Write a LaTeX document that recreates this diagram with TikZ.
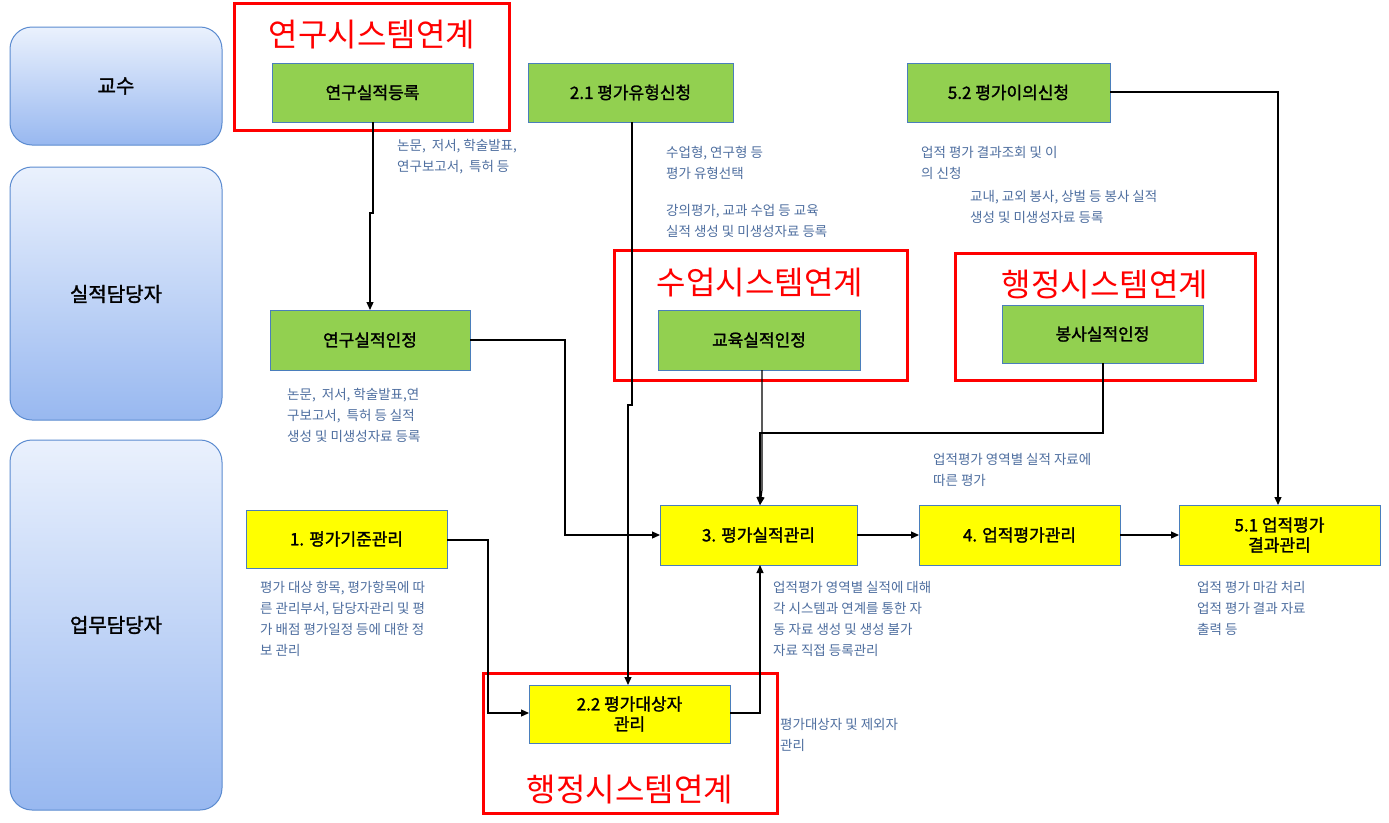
\documentclass[tikz,border=0pt]{standalone}
\usepackage{fontspec}
\setmainfont{Noto Sans CJK KR}
\newfontfamily\krb[FakeBold=1.5]{Noto Sans CJK KR}
\usetikzlibrary{arrows.meta}
\definecolor{gfill}{HTML}{92D050}
\definecolor{gline}{HTML}{4A7EBB}
\definecolor{yfill}{HTML}{FFFF00}
\definecolor{ntext}{HTML}{4F6FA0}
\definecolor{lanetop}{HTML}{EAF1FD}
\definecolor{lanebot}{HTML}{98B8F0}
\definecolor{laneline}{HTML}{5B8BD0}
\begin{document}
\begin{tikzpicture}[x=1pt,y=-1pt,
 lane/.style={draw=laneline,line width=1pt,rounded corners=22pt,top color=lanetop,bottom color=lanebot},
 gbox/.style={draw=gline,line width=1pt,fill=gfill},
 ybox/.style={draw=gline,line width=1pt,fill=yfill},
 rbox/.style={draw=red,line width=3pt},
 rtxt/.style={text=red,font=\fontsize{32}{34}\selectfont},
 btxt/.style={font=\krb\fontsize{17}{20}\selectfont,align=center},
 ltxt/.style={font=\krb\fontsize{20}{24}\selectfont},
 note/.style={text=ntext,font=\fontsize{13.5}{21}\selectfont,align=left,anchor=north west,inner sep=0pt},
 arr/.style={-{Triangle[length=8pt,width=7pt]},line width=1.2pt}]
\useasboundingbox (0,0) rectangle (1389,822);
\fill[white] (0,0) rectangle (1389,822);
% lanes
\draw[lane] (10,27) rectangle (222,145); \node[ltxt] (l1) at (116,86) {교수};
\draw[lane] (10,167) rectangle (222,420); \node[ltxt] (l2) at (116,294) {실적담당자};
\draw[lane] (10,440) rectangle (222,810); \node[ltxt] (l3) at (116,625) {업무담당자};
% red boxes
\draw[rbox] (234,3) rectangle (509,130); \node[rtxt] (r1) at (372,35) {연구시스템연계};
\draw[rbox] (614,250) rectangle (907,380); \node[rtxt] (r2) at (760,283) {수업시스템연계};
\draw[rbox] (955,253) rectangle (1255,380); \node[rtxt] (r3) at (1105,285) {행정시스템연계};
\draw[rbox] (483,673) rectangle (777,813); \node[rtxt] (r4) at (630,790) {행정시스템연계};
% green nodes
\draw[gbox] (272,63) rectangle (473,122); \node[btxt] (a) at (372.5,92.5) {연구실적등록};
\draw[gbox] (528,63) rectangle (733,122); \node[btxt] (b) at (630.5,92.5) {2.1 평가유형신청};
\draw[gbox] (907,63) rectangle (1110,122); \node[btxt] (c) at (1008.5,92.5) {5.2 평가이의신청};
\draw[gbox] (270,310) rectangle (470,370); \node[btxt] (d) at (370,340) {연구실적인정};
\draw[gbox] (658,310) rectangle (860,370); \node[btxt] (e) at (759,340) {교육실적인정};
\draw[gbox] (1002,305) rectangle (1203,363); \node[btxt] (f) at (1102.5,334) {봉사실적인정};
% yellow nodes
\draw[ybox] (246,510) rectangle (447,568); \node[btxt] (g) at (346.5,539) {1. 평가기준관리};
\draw[ybox] (660,505) rectangle (857,565); \node[btxt] (h) at (758.5,535) {3. 평가실적관리};
\draw[ybox] (919,505) rectangle (1120,565); \node[btxt] (i) at (1019.5,535) {4. 업적평가관리};
\draw[ybox] (1179,505) rectangle (1380,565); \node[btxt] (j) at (1279.5,535) {5.1 업적평가\\결과관리};
\draw[ybox] (529,685) rectangle (730,743); \node[btxt] (k) at (629.5,714) {2.2 평가대상자\\관리};
% coordinates
\coordinate (aB) at (373,122); \coordinate (dT) at (370,310);
\coordinate (bB) at (632,122); \coordinate (kT) at (628,685);
\coordinate (cR) at (1110,92); \coordinate (jT) at (1278,505);
\coordinate (dR) at (470,340); \coordinate (hL) at (660,535);
\coordinate (eB) at (762,370); \coordinate (fB) at (1103,363); \coordinate (hT) at (760,505);
\coordinate (gR) at (447,540); \coordinate (kL) at (529,713);
\coordinate (kR) at (730,713); \coordinate (hB) at (760,565);
\coordinate (hR) at (857,535); \coordinate (iL) at (919,535);
\coordinate (iR) at (1120,535); \coordinate (jL) at (1179,535);
% edges
\draw[arr] (aB) -- (373,213) -- (370,213) -- (dT);
\draw[arr] (bB) -- (632,405) -- (628,405) -- (kT);
\draw[arr] (cR) -- (1278,92) -- (jT);
\draw[arr] (dR) -- (565,340) -- (565,535) -- (hL);
\draw[arr] (eB) -- (762,490) -- (hT);
\draw[arr] (fB) -- (1103,433) -- (760,433) -- (hT);
\draw[arr] (gR) -- (488,540) -- (488,713) -- (kL);
\draw[arr] (kR) -- (760,713) -- (hB);
\draw[arr] (hR) -- (iL);
\draw[arr] (iR) -- (jL);
% notes
\node[note] (n1) at (397,139) {논문,\ \ 저서, 학술발표,\\연구보고서,\ \ 특허 등};
\node[note] (n2) at (666,146) {수업형, 연구형 등\\평가 유형선택};
\node[note] (n3) at (666,204) {강의평가, 교과 수업 등 교육\\실적 생성 및 미생성자료 등록};
\node[note] (n4) at (921,146) {업적 평가 결과조회 및 이\\의 신청};
\node[note] (n5) at (970,190) {교내, 교외 봉사, 상벌 등 봉사 실적\\생성 및 미생성자료 등록};
\node[note] (n6) at (287,388) {논문,\ \ 저서, 학술발표,연\\구보고서,\ \ 특허 등 실적\\생성 및 미생성자료 등록};
\node[note] (n7) at (933,453) {업적평가 영역별 실적 자료에\\따른 평가};
\node[note] (n8) at (260,581) {평가 대상 항목, 평가항목에 따\\른 관리부서, 담당자관리 및 평\\가 배점 평가일정 등에 대한 정\\보 관리};
\node[note] (n9) at (773,581) {업적평가 영역별 실적에 대해\\각 시스템과 연계를 통한 자\\동 자료 생성 및 생성 불가\\자료 직접 등록관리};
\node[note] (n10) at (780,718) {평가대상자 및 제외자\\관리};
\node[note] (n11) at (1197,581) {업적 평가 마감 처리\\업적 평가 결과 자료\\출력 등};
\end{tikzpicture}
\end{document}
